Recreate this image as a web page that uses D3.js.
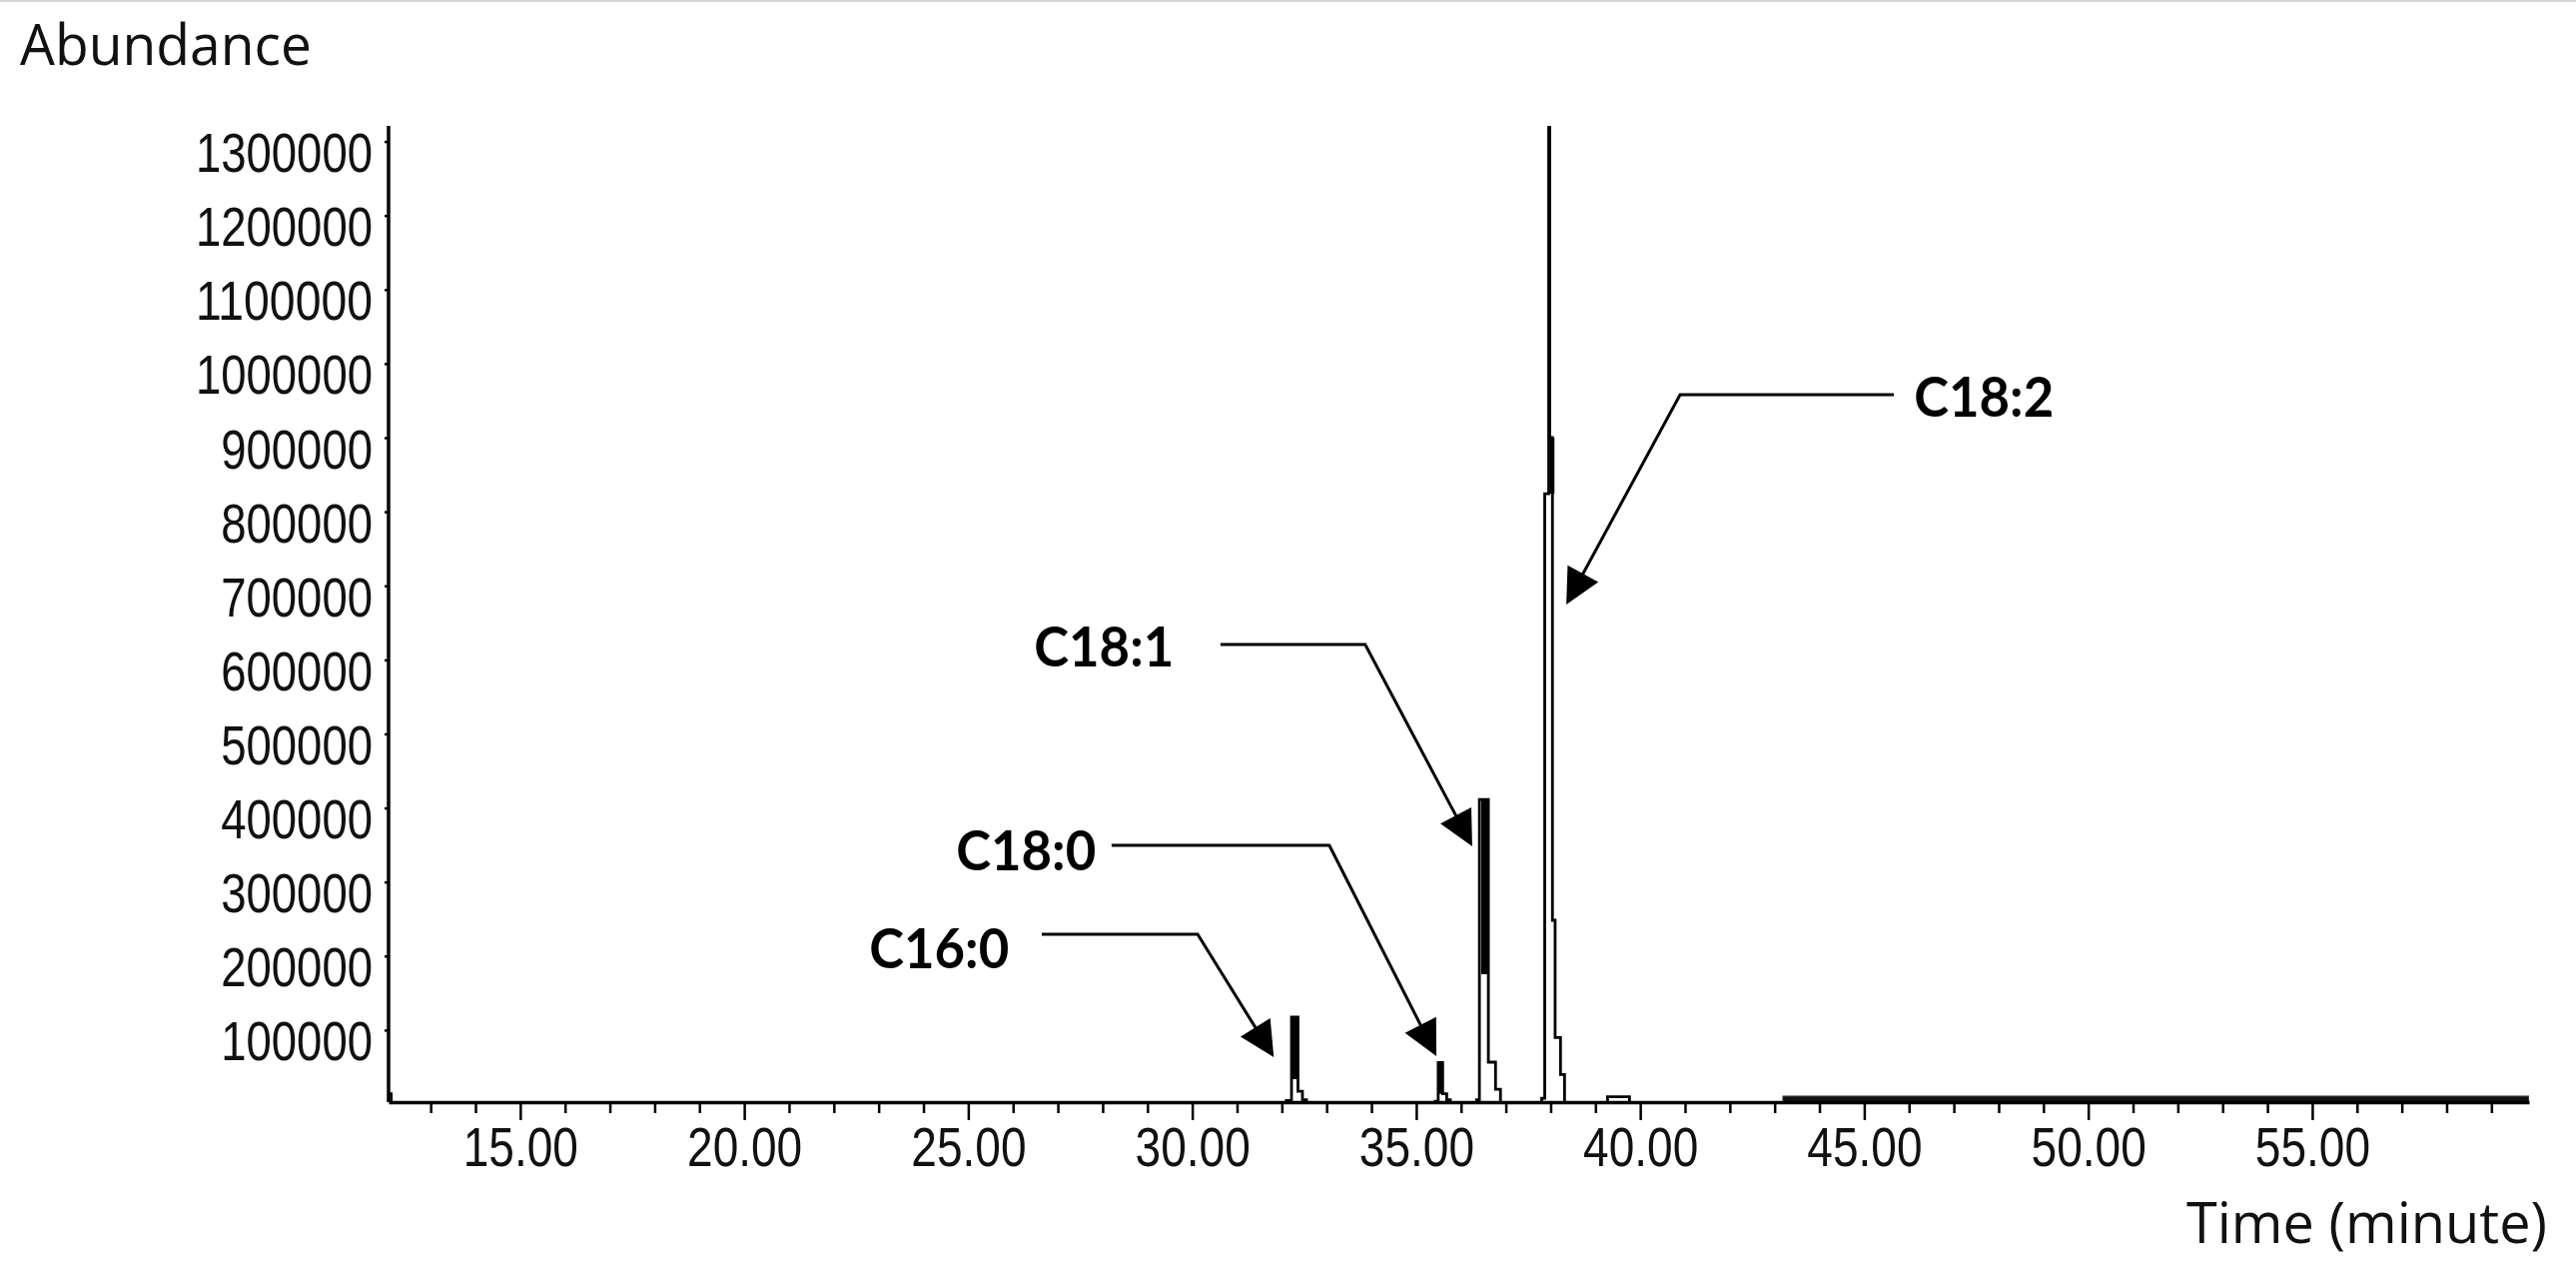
<!DOCTYPE html>
<html>
<head>
<meta charset="utf-8">
<script src="https://cdn.jsdelivr.net/npm/d3@7"></script>
<style>
  html, body { margin: 0; padding: 0; background: #ffffff; }
  svg { display: block; }
</style>
</head>
<body>
<svg id="chart" width="2579" height="1279"></svg>
<script>
// ---------------- DATA ----------------
// Chromatogram trace (retention time in minutes, abundance), drawn as a step trace
const traceTime = [12.06, 12.12,
  32.10, 32.216, 32.36, 32.46, 32.55,
  35.42, 35.49, 35.59, 35.68, 35.76,
  36.35, 36.41, 36.61, 36.77, 36.88,
  37.80, 37.868, 37.957, 37.98, 38.04, 38.10, 38.22, 38.31,
  39.27, 39.76, 59.84];
const traceAbundance = [14000, 2000,
  5000, 117400, 17500, 6000, 2000,
  4000, 56300, 14000, 6000, 2000,
  6000, 411500, 56700, 20200, 2000,
  8000, 824400, 1330000, 900000, 248300, 90000, 40000, 2000,
  10000, 2000, 2000];

// Dense (unresolved) cores of the peaks: time span and abundance span
const coreStart = [32.23, 35.50, 36.45, 37.984];
const coreEnd = [32.35, 35.58, 36.59, 38.085];
const coreLow = [33700, 14000, 175400, 824400];
const coreHigh = [117400, 56300, 411500, 900000];

// Noisy baseline region after ~43 min (time range and abundance band)
const noiseTime = [43.18, 59.84];
const noiseLow = [1500, 1500];
const noiseHigh = [11000, 11000];

// Axis ticks
const xTickValues = d3.range(13, 60, 1);
const xMajorTicks = [15, 20, 25, 30, 35, 40, 45, 50, 55];
const yTickValues = [100000, 200000, 300000, 400000, 500000, 600000, 700000,
  800000, 900000, 1000000, 1100000, 1200000, 1300000];

// Peak annotations (in data units: minutes, abundance)
const annLabels = ["C16:0", "C18:0", "C18:1", "C18:2"];
const annTipTime = [31.82, 35.45, 36.25, 38.35];
const annTipAbund = [63400, 64800, 348100, 674700];
const annElbowTime = [30.12, 33.06, 33.86, 40.89];
const annElbowAbund = [229400, 349500, 620700, 958000];
const annStartTime = [26.64, 28.20, 30.63, 45.66];
const annLabelTime = [25.91, 27.85, 29.59, 46.11];
const annLabelAbund = [183500, 315700, 591000, 928300];

// ---------------- CHART ----------------
const svg = d3.select("#chart");
const W = 2579, H = 1279;
svg.append("rect").attr("width", W).attr("height", H).attr("fill", "#ffffff");
svg.append("line").attr("x1", 0).attr("x2", W).attr("y1", 1).attr("y2", 1)
  .attr("stroke", "#d4d4d4").attr("stroke-width", 2);

const x = d3.scaleLinear().domain([12.06, 59.84]).range([389, 2532]);
const y = d3.scaleLinear().domain([0, 1321000]).range([1105, 126]);
const xAxisY = 1103;

svg.append("defs").append("clipPath").attr("id", "plotclip")
  .append("rect")
  .attr("x", x.range()[0]).attr("y", y.range()[1])
  .attr("width", x.range()[1] - x.range()[0])
  .attr("height", y.range()[0] - y.range()[1]);

const plot = svg.append("g").attr("clip-path", "url(#plotclip)");

// noisy baseline band
const band = d3.area()
  .x(d => x(d.t)).y0(d => y(d.lo)).y1(d => y(d.hi));
plot.append("path")
  .datum(noiseTime.map((t, i) => ({ t: t, lo: noiseLow[i], hi: noiseHigh[i] })))
  .attr("d", band)
  .attr("fill", "#111")
  .attr("stroke", "#666")
  .attr("stroke-width", 0.8);

// dense peak cores
plot.selectAll("rect.core")
  .data(coreStart.map((s, i) => ({ s: s, e: coreEnd[i], lo: coreLow[i], hi: coreHigh[i] })))
  .join("rect")
  .attr("class", "core")
  .attr("x", d => x(d.s))
  .attr("width", d => x(d.e) - x(d.s))
  .attr("y", d => y(d.hi))
  .attr("height", d => y(d.lo) - y(d.hi))
  .attr("fill", "#000");

// trace
const line = d3.line()
  .x(d => x(d.t)).y(d => y(d.v))
  .curve(d3.curveStepAfter);
plot.append("path")
  .datum(traceTime.map((t, i) => ({ t: t, v: traceAbundance[i] })))
  .attr("d", line)
  .attr("fill", "none")
  .attr("stroke", "#000")
  .attr("stroke-width", 2.8)
  .attr("stroke-linejoin", "miter");

// ---------------- AXES ----------------
const tickFont = "'Liberation Sans', Arial, sans-serif";

const xAxis = d3.axisBottom(x)
  .tickValues(xTickValues)
  .tickSize(10)
  .tickSizeOuter(0)
  .tickFormat(d => xMajorTicks.includes(d) ? d3.format(".2f")(d) : "");
const gx = svg.append("g").attr("transform", `translate(0,${xAxisY})`).call(xAxis);
gx.select(".domain").attr("stroke", "#000").attr("stroke-width", 3.5);
gx.selectAll(".tick line")
  .attr("stroke", "#000").attr("stroke-width", 2.5)
  .attr("y2", d => xMajorTicks.includes(d) ? 18 : 11);
gx.selectAll(".tick text")
  .attr("y", 64).attr("dy", 0)
  .attr("fill", "#111")
  .style("font-family", tickFont)
  .style("font-size", "56px")
  .each(function(d) {
    const s = d3.select(this).text();
    if (s.length) {
      const digits = s.replace(/[^0-9]/g, "").length;
      d3.select(this).attr("textLength", digits * 25.3 + 14)
        .attr("lengthAdjust", "spacingAndGlyphs");
    }
  });

const yAxis = d3.axisLeft(y)
  .tickValues(yTickValues)
  .tickSize(4)
  .tickSizeOuter(0)
  .tickPadding(12)
  .tickFormat(d3.format("d"));
const gy = svg.append("g").attr("transform", `translate(${x.range()[0]},0)`).call(yAxis);
gy.select(".domain")
  .attr("d", `M0,${y.range()[1]}V${xAxisY}`)
  .attr("stroke", "#000").attr("stroke-width", 3.5);
gy.selectAll(".tick line").attr("stroke", "#000").attr("stroke-width", 2.5);
gy.selectAll(".tick text")
  .attr("dy", 30)
  .attr("fill", "#111")
  .style("font-family", tickFont)
  .style("font-size", "56px")
  .each(function() {
    const s = d3.select(this).text();
    d3.select(this).attr("textLength", s.length * 25.3)
      .attr("lengthAdjust", "spacingAndGlyphs");
  });

// axis titles
svg.append("text")
  .attr("x", 20).attr("y", 65)
  .style("font-family", "'Open Sans', 'Noto Sans', sans-serif")
  .style("font-size", "56px")
  .attr("fill", "#111")
  .attr("textLength", 292).attr("lengthAdjust", "spacingAndGlyphs")
  .text("Abundance");

svg.append("text")
  .attr("x", 2550).attr("y", 1244)
  .attr("text-anchor", "end")
  .style("font-family", "'Open Sans', 'Noto Sans', sans-serif")
  .style("font-size", "56px")
  .attr("fill", "#111")
  .attr("textLength", 361).attr("lengthAdjust", "spacingAndGlyphs")
  .text("Time (minute)");

// ---------------- ANNOTATIONS ----------------
const ann = svg.append("g");
annLabels.forEach((lab, i) => {
  const sx = x(annStartTime[i]), sy = y(annElbowAbund[i]);
  const ex = x(annElbowTime[i]), ey = y(annElbowAbund[i]);
  const tx = x(annTipTime[i]), ty = y(annTipAbund[i]);
  const dx = tx - ex, dy = ty - ey, len = Math.hypot(dx, dy);
  const ux = dx / len, uy = dy / len;
  const headL = 35, headW = 17.5;
  const bx = tx - ux * headL, by = ty - uy * headL;
  ann.append("path")
    .attr("d", `M${sx},${sy}L${ex},${ey}L${bx + ux * 4},${by + uy * 4}`)
    .attr("fill", "none").attr("stroke", "#000").attr("stroke-width", 3);
  ann.append("path")
    .attr("d", `M${tx},${ty}L${bx - uy * headW},${by + ux * headW}L${bx + uy * headW},${by - ux * headW}Z`)
    .attr("fill", "#000");
  const lx = x(annLabelTime[i]);
  const anchor = annLabelTime[i] > annStartTime[i] ? "start" : "end";
  ann.append("text")
    .attr("x", lx).attr("y", y(annLabelAbund[i]))
    .attr("text-anchor", anchor)
    .style("font-family", "Lato, 'Open Sans', sans-serif")
    .style("font-weight", "bold")
    .style("font-size", "56px")
    .attr("fill", "#000")
    .attr("textLength", 140).attr("lengthAdjust", "spacingAndGlyphs")
    .text(lab);
});
</script>
</body>
</html>
